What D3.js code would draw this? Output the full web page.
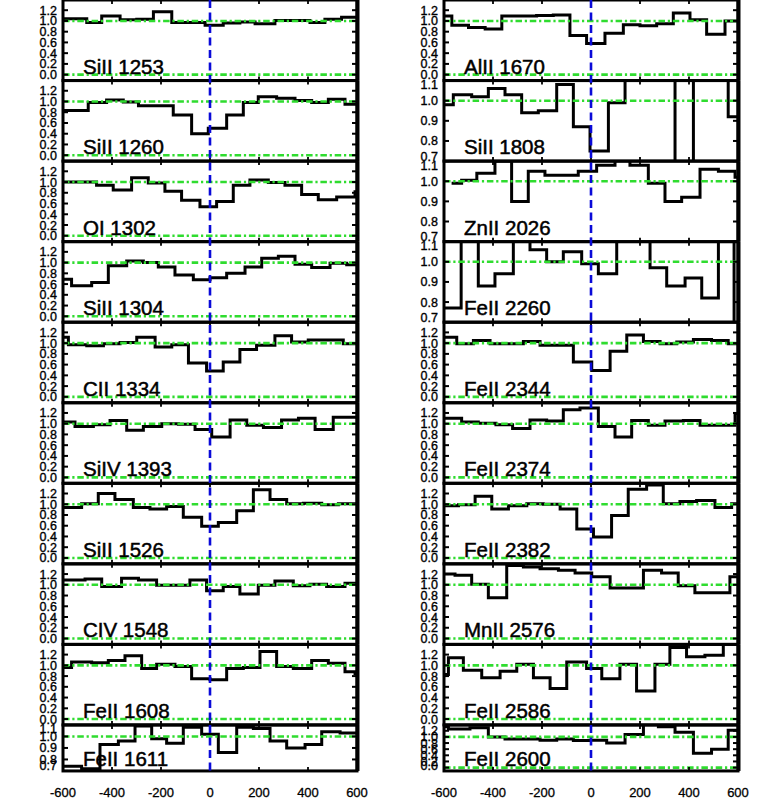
<!DOCTYPE html>
<html><head><meta charset="utf-8">
<script src="https://cdn.jsdelivr.net/npm/d3@7"></script>
<style>body{margin:0;background:#fff;} svg{display:block;}</style>
</head><body>
<svg id="chart" width="761" height="807"></svg>
<script>
// ---------- DATA (bin left edges in km/s, normalised flux) ----------
const leftLines  = ["SiII 1253","SiII 1260","OI 1302","SiII 1304","CII 1334","SiIV 1393","SiII 1526","CIV 1548","FeII 1608","FeII 1611"];
const rightLines = ["AlII 1670","SiII 1808","ZnII 2026","FeII 2260","FeII 2344","FeII 2374","FeII 2382","MnII 2576","FeII 2586","FeII 2600"];

const v_SiII1253 = [-640,-503,-442,-367,-299,-231,-156,-20,54,122,184,265,333,408,469,537];
const f_SiII1253 = [1.04,0.97,1.09,1.02,1.03,1.17,0.97,0.92,0.96,0.98,0.95,1.01,1.01,0.97,1.03,1.07];
const v_SiII1260 = [-640,-497,-422,-354,-292,-150,-75,-7,68,136,197,272,347,415,483,551];
const f_SiII1260 = [0.83,0.98,1.03,0.99,0.92,0.75,0.40,0.50,0.75,0.98,1.09,1.06,1.02,0.98,1.04,0.95];
const v_OI1302   = [-640,-463,-395,-320,-252,-184,-116,-41,27,95,163,238,306,374,442,517,592];
const f_OI1302   = [1.00,0.94,0.85,1.08,0.98,0.83,0.66,0.54,0.64,0.94,1.04,0.99,0.94,0.77,0.67,0.72,0.82];
const v_SiII1304 = [-640,-565,-483,-415,-340,-272,-211,-143,-68,0,68,143,211,279,347,415,490,558];
const f_SiII1304 = [0.69,0.57,0.63,0.94,1.03,1.00,0.92,0.77,0.68,0.72,0.80,0.92,1.08,1.12,0.97,0.91,0.99,0.96];
const v_CII1334  = [-640,-578,-503,-435,-367,-299,-224,-156,-88,-14,54,122,190,265,333,401,544];
const f_CII1334  = [1.11,0.97,0.95,0.99,1.01,1.11,0.93,0.97,0.63,0.48,0.65,0.88,0.96,1.14,1.02,1.06,0.99];
const v_SiIV1393 = [-640,-551,-476,-408,-340,-272,-197,-129,-61,7,82,150,218,292,361,429,503];
const f_SiIV1393 = [1.03,0.95,0.98,1.06,0.88,0.95,1.00,0.99,0.89,0.75,1.07,0.97,0.93,1.07,1.10,0.89,1.12];
const v_SiII1526 = [-640,-524,-456,-388,-313,-245,-177,-109,-34,34,109,177,245,313,381,456,524];
const f_SiII1526 = [0.94,1.01,1.20,1.09,0.94,0.91,0.96,0.76,0.59,0.66,0.88,1.27,1.09,1.01,1.02,0.99,1.01];
const v_CIV1548  = [-640,-510,-442,-361,-292,-218,-150,-82,-14,54,122,197,265,340,408,476,551];
const f_CIV1548  = [1.09,1.11,0.97,1.12,1.09,0.99,0.99,1.09,0.89,0.97,0.83,0.99,1.07,0.98,1.01,0.97,1.03];
const v_FeII1608 = [-640,-565,-483,-415,-347,-279,-218,-143,-75,0,68,136,204,272,340,415,483,551,592];
const f_FeII1608 = [0.96,1.06,1.05,1.09,1.18,0.94,1.02,0.98,0.75,0.73,0.94,0.96,1.26,0.98,0.94,1.09,1.04,0.88,0.85];
const v_FeII1611 = [-640,-524,-449,-374,-306,-238,-177,-109,-34,34,109,177,245,313,388,456,531];
const f_FeII1611 = [0.74,0.72,0.93,0.96,1.09,0.98,0.94,1.08,1.02,0.86,1.08,1.07,0.96,0.90,0.93,1.04,1.03];

const v_AlII1670 = [-640,-568,-500,-432,-364,-290,-222,-154,-86,-18,57,132,200,268,336,404,472,547];
const f_AlII1670 = [1.09,0.92,0.88,0.85,1.09,1.09,1.10,1.11,0.73,0.58,0.77,0.93,0.91,0.95,1.15,1.02,0.75,1.00];
const v_SiII1808 = [-640,-562,-487,-419,-351,-283,-215,-140,-72,-4,71,139,343,418,560];
const f_SiII1808 = [0.98,1.03,1.02,1.06,1.03,0.94,0.95,1.08,0.87,0.75,0.99,1.25,0.55,1.25,0.92];
const v_ZnII2026 = [-569,-528,-466,-392,-324,-256,-188,-52,23,98,159,234,302,370,445,520,588];
const f_ZnII2026 = [0.99,1.005,1.04,1.10,0.90,1.05,1.03,1.05,1.08,1.20,1.08,0.99,0.90,0.92,1.06,1.05,1.02];
const v_FeII2260 = [-640,-530,-460,-392,-317,-249,-181,-113,-38,30,105,241,309,384,452,520,584];
const f_FeII2260 = [0.77,1.25,0.88,0.94,1.25,1.06,1.00,1.05,0.99,0.94,1.25,0.97,0.88,0.92,0.82,1.25,0.50];
const v_FeII2344 = [-640,-548,-480,-412,-344,-276,-208,-72,3,78,146,214,282,350,418,492,560];
const f_FeII2344 = [1.11,0.99,1.05,0.99,0.99,1.03,0.96,0.65,0.49,0.85,1.15,1.03,0.99,1.02,1.07,1.05,0.99];
const v_FeII2374 = [-640,-528,-460,-388,-320,-249,-181,-113,-45,30,98,166,234,302,377,445,588];
const f_FeII2374 = [1.10,1.03,1.01,0.98,0.91,1.07,1.05,1.26,1.29,0.95,0.75,1.06,0.97,1.05,1.06,0.97,1.19];
const v_FeII2382 = [-640,-541,-473,-405,-337,-262,-195,-126,-58,10,84,152,227,295,363,431,506,574];
const f_FeII2382 = [0.97,0.99,1.15,0.91,0.97,1.01,1.00,0.91,0.54,0.39,0.79,1.28,1.36,1.01,1.05,1.07,0.94,1.01];
const v_MnII2576 = [-640,-555,-487,-419,-344,-276,-208,-133,-65,3,78,146,214,288,356,424,499,567];
const f_MnII2576 = [1.20,1.18,1.01,0.76,1.36,1.33,1.30,1.27,1.22,1.15,0.94,0.94,1.27,1.22,0.98,0.85,0.85,1.15];
const v_FeII2586 = [-640,-582,-521,-446,-371,-303,-235,-167,-99,-18,44,118,186,261,322,390,465,540];
const f_FeII2586 = [0.83,1.14,0.91,0.77,0.89,1.02,0.77,0.57,1.06,0.94,0.75,1.02,0.52,1.02,1.33,1.16,1.19,1.50];
const v_FeII2600 = [-640,-582,-494,-419,-351,-283,-208,-140,-72,-4,64,139,214,275,343,418,492,560];
const f_FeII2600 = [1.33,1.26,1.30,1.00,0.93,0.93,0.89,0.93,0.88,0.89,0.80,1.08,1.45,1.33,1.15,0.47,0.60,1.22];

const leftV  = [v_SiII1253,v_SiII1260,v_OI1302,v_SiII1304,v_CII1334,v_SiIV1393,v_SiII1526,v_CIV1548,v_FeII1608,v_FeII1611];
const leftF  = [f_SiII1253,f_SiII1260,f_OI1302,f_SiII1304,f_CII1334,f_SiIV1393,f_SiII1526,f_CIV1548,f_FeII1608,f_FeII1611];
const rightV = [v_AlII1670,v_SiII1808,v_ZnII2026,v_FeII2260,v_FeII2344,v_FeII2374,v_FeII2382,v_MnII2576,v_FeII2586,v_FeII2600];
const rightF = [f_AlII1670,f_SiII1808,f_ZnII2026,f_FeII2260,f_FeII2344,f_FeII2374,f_FeII2382,f_MnII2576,f_FeII2586,f_FeII2600];

// panels with the zoomed (0.7-1.1) flux range
const narrowPanels = ["FeII 1611","SiII 1808","ZnII 2026","FeII 2260"];
const wideTicks   = [0.0,0.2,0.4,0.6,0.8,1.0,1.2];
const narrowTicks = [0.7,0.8,0.9,1.0,1.1];
const xTicks      = [-600,-400,-200,0,200,400,600];
const xTickLabels = ["-600","-400","-200","0","200","400","600"];

// ---------- DRAW ----------
const svg = d3.select("#chart");
const FONT = "'Liberation Sans', Arial, Helvetica, sans-serif";
const GREEN = "#2fdc2f", BLUE = "#0a0ad8";
const columns = [
  {x0:63,  x1:357, names:leftLines,  V:leftV,  F:leftF},
  {x0:444, x1:738, names:rightLines, V:rightV, F:rightF}
];
const bigH = 80.55, smallH = 46;
const defs = svg.append("defs");

columns.forEach((col, ci) => {
  const x = d3.scaleLinear().domain([-600,600]).range([col.x0, col.x1]);
  col.names.forEach((name, pi) => {
    const top = pi * bigH;
    const h = pi === 9 ? smallH : bigH;
    const bot = top + h;
    const narrow = narrowPanels.includes(name);
    const y = d3.scaleLinear().domain(narrow ? [0.7,1.1] : [-0.11,1.39]).range([bot, top]);
    const g = svg.append("g");
    const cid = `clip${ci}_${pi}`;
    defs.append("clipPath").attr("id", cid).append("rect")
      .attr("x", col.x0).attr("y", top).attr("width", col.x1-col.x0).attr("height", h);

    // data histogram
    const V = col.V[pi], F = col.F[pi];
    const pts = V.map((v,i)=>[v, F[i]]);
    pts.push([700, F[F.length-1]]);
    const line = d3.line().x(d=>x(d[0])).y(d=>y(d[1])).curve(d3.curveStepAfter);
    g.append("path").attr("d", line(pts)).attr("clip-path", `url(#${cid})`)
      .attr("fill","none").attr("stroke","#000").attr("stroke-width",3);

    // reference lines
    [0,1].forEach(val => {
      const d = y.domain();
      if (val < d[0] || val > d[1]) return;
      g.append("line").attr("x1", col.x0).attr("x2", col.x1)
        .attr("y1", y(val)).attr("y2", y(val))
        .attr("stroke", GREEN).attr("stroke-width", 2.6)
        .attr("stroke-dasharray", "6.5,2.8,2.2,2.8");
    });

    // frame
    g.append("rect").attr("x", col.x0).attr("y", top).attr("width", col.x1-col.x0).attr("height", h)
      .attr("fill","none").attr("stroke","#000").attr("stroke-width",3);
    g.append("line").attr("x1", col.x1+0.5).attr("x2", col.x1+0.5).attr("y1", top).attr("y2", bot)
      .attr("stroke","#000").attr("stroke-width",4);

    // y ticks + labels
    const yt = narrow ? narrowTicks : wideTicks;
    yt.forEach(t => {
      const yy = y(t);
      g.append("line").attr("x1", col.x0).attr("x2", col.x0+5).attr("y1", yy).attr("y2", yy)
        .attr("stroke","#000").attr("stroke-width",2);
      g.append("line").attr("x1", col.x1-5).attr("x2", col.x1).attr("y1", yy).attr("y2", yy)
        .attr("stroke","#000").attr("stroke-width",2);
      const ly = Math.max(top+4, Math.min(bot-5, yy));
      g.append("text").attr("x", col.x0-6).attr("y", ly).attr("dy","0.36em")
        .attr("text-anchor","end").attr("font-family",FONT).attr("font-size",12.5)
        .attr("stroke","#000").attr("stroke-width",0.35)
        .text(t.toFixed(1));
    });
    // x ticks
    xTicks.slice(1,-1).forEach(t => {
      g.append("line").attr("x1", x(t)).attr("x2", x(t)).attr("y1", bot).attr("y2", bot-4)
        .attr("stroke","#000").attr("stroke-width",1.8);
      g.append("line").attr("x1", x(t)).attr("x2", x(t)).attr("y1", top).attr("y2", top+4)
        .attr("stroke","#000").attr("stroke-width",1.8);
    });

    // line label
    g.append("text").attr("x", col.x0+20).attr("y", pi === 9 ? bot-4.5 : bot-7)
      .attr("font-family",FONT).attr("font-size",20.5).attr("fill","#000")
      .attr("stroke","#000").attr("stroke-width",0.5).text(name);
  });

  // x axis labels
  xTicks.forEach((t,i) => {
    svg.append("text").attr("x", x(t)).attr("y", 797).attr("text-anchor","middle")
      .attr("font-family",FONT).attr("font-size",13)
      .attr("stroke","#000").attr("stroke-width",0.3).text(xTickLabels[i]);
  });

  // zero-velocity line
  svg.append("line").attr("x1", x(0)).attr("x2", x(0)).attr("y1", 0).attr("y2", 9*bigH+smallH)
    .attr("stroke", BLUE).attr("stroke-width", 2.6).attr("stroke-dasharray","8,4.5");
});
</script>
</body></html>
